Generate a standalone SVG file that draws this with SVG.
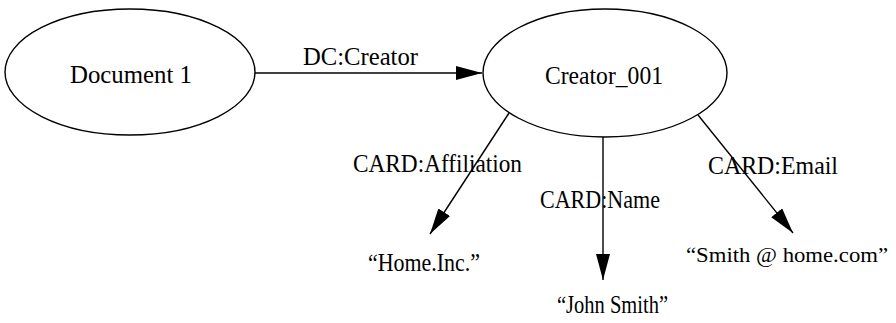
<svg xmlns="http://www.w3.org/2000/svg" width="896" height="323" viewBox="0 0 896 323">
<style>
  .node { fill: #ffffff; stroke: #000000; stroke-width: 1.4; }
  .edge { stroke: #000000; stroke-width: 1.4; fill: none; marker-end: url(#arrow); }
  text { font-family: "Liberation Serif", "Times New Roman", serif; font-size: 25px; fill: #000000; }
  text.small { font-size: 22px; }
</style>
<defs>
  <marker id="arrow" markerUnits="userSpaceOnUse" markerWidth="27" markerHeight="16" refX="26" refY="7" orient="auto">
    <path d="M0,0 L26,7 L0,14 z" fill="#000000"/>
  </marker>
</defs>
<rect width="896" height="323" fill="#ffffff"/>
<g id="connectors">
  <line class="edge" x1="255" y1="73" x2="482" y2="73"/>
  <line class="edge" x1="509" y1="113" x2="430" y2="234"/>
  <line class="edge" x1="603" y1="137" x2="603" y2="280"/>
  <line class="edge" x1="698" y1="115" x2="793" y2="233"/>
  <text x="303" y="65" textLength="115" lengthAdjust="spacingAndGlyphs">DC:Creator</text>
  <text x="353" y="172" textLength="169" lengthAdjust="spacingAndGlyphs">CARD:Affiliation</text>
  <text x="540" y="208" textLength="120" lengthAdjust="spacingAndGlyphs">CARD:Name</text>
  <text x="708" y="174" textLength="130" lengthAdjust="spacingAndGlyphs">CARD:Email</text>
</g>
<g id="document1">
  <ellipse class="node" cx="130" cy="72" rx="125" ry="63"/>
  <text x="70" y="83" textLength="122" lengthAdjust="spacingAndGlyphs">Document 1</text>
</g>
<g id="creator001">
  <ellipse class="node" cx="605" cy="73" rx="122" ry="64"/>
  <text x="545" y="84" textLength="118" lengthAdjust="spacingAndGlyphs">Creator_001</text>
</g>
<g id="affiliation">
  <text x="368" y="271" textLength="112" lengthAdjust="spacingAndGlyphs">“Home.Inc.”</text>
</g>
<g id="name">
  <text x="557" y="313" textLength="111" lengthAdjust="spacingAndGlyphs">“John Smith”</text>
</g>
<g id="email">
  <text class="small" x="686" y="262" textLength="202" lengthAdjust="spacingAndGlyphs">“Smith @ home.com”</text>
</g>
</svg>
